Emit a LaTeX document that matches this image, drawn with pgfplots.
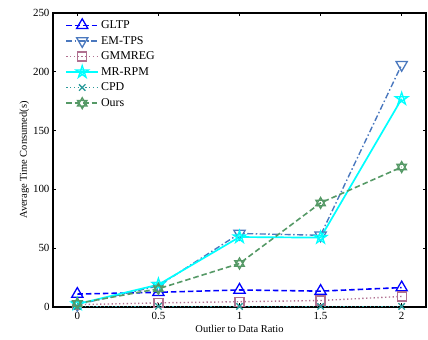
\documentclass[border=0pt]{standalone}
\usepackage{pgfplots}
\pgfplotsset{compat=1.18}
\usepackage{fontspec}
\setmainfont{Liberation Serif}
\definecolor{cGLTP}{rgb}{0,0,1}
\definecolor{cEM}{HTML}{4A78BE}
\definecolor{cGMM}{HTML}{B07090}
\definecolor{cMR}{HTML}{00FFFF}
\definecolor{cCPD}{HTML}{2A9A9A}
\definecolor{cOurs}{HTML}{559966}
\pgfdeclareplotmark{pentagram}{%
  \pgfpathmoveto{\pgfqpointpolar{90}{\pgfplotmarksize}}%
  \pgfpathlineto{\pgfqpointpolar{234}{\pgfplotmarksize}}%
  \pgfpathlineto{\pgfqpointpolar{18}{\pgfplotmarksize}}%
  \pgfpathlineto{\pgfqpointpolar{162}{\pgfplotmarksize}}%
  \pgfpathlineto{\pgfqpointpolar{306}{\pgfplotmarksize}}%
  \pgfpathclose\pgfusepathqstroke}
\pgfdeclareplotmark{hexagram}{%
  \pgfpathmoveto{\pgfqpointpolar{90}{\pgfplotmarksize}}%
  \pgfpathlineto{\pgfqpointpolar{210}{\pgfplotmarksize}}%
  \pgfpathlineto{\pgfqpointpolar{330}{\pgfplotmarksize}}%
  \pgfpathclose
  \pgfpathmoveto{\pgfqpointpolar{270}{\pgfplotmarksize}}%
  \pgfpathlineto{\pgfqpointpolar{30}{\pgfplotmarksize}}%
  \pgfpathlineto{\pgfqpointpolar{150}{\pgfplotmarksize}}%
  \pgfpathclose\pgfusepathqstroke}
\begin{document}
\begin{tikzpicture}
\begin{axis}[
  scale only axis, width=373bp, height=294bp,
  xmin=-0.15, xmax=2.15, ymin=0, ymax=250,
  xtick={0,0.5,1,1.5,2}, xticklabels={0,0.5,1,1.5,2},
  ytick={0,50,100,150,200,250},
  tick align=inside, tick pos=both, major tick length=3.5bp,
  axis line style={line width=1.1pt},
  every tick/.style={black, line width=0.7pt},
  tick label style={font=\fontsize{11}{13}\selectfont},
  label style={font=\fontsize{10.5}{12}\selectfont},
  /pgf/number format/assume math mode=true,
  xlabel={Outlier to Data Ratio},
  ylabel={Average Time Consumed(s)},
  xticklabel style={yshift=-1.5bp},
  xlabel style={yshift=1bp},
  ylabel style={yshift=-3bp},
  clip=false,
  legend style={at={(rel axis cs:0.03,0.985)}, anchor=north west, draw=none, fill=none,
    font=\fontsize{12}{13}\selectfont, row sep=2.2bp, inner sep=1bp},
  legend cell align=left,
  legend image code/.code={%
    \draw[mark repeat=2,mark phase=2] plot coordinates {(0bp,0bp) (16bp,0bp) (32bp,0bp)};},
]
\addplot[color=cGLTP, dash pattern=on 5.5bp off 3bp, line width=1.6pt, mark=triangle, mark size=6.5bp, mark options={solid, line width=1.3pt}]
 coordinates {(0,11) (0.5,12.5) (1,14.5) (1.5,13.5) (2,16.5)};
\addlegendentry{GLTP}
\addplot[color=cEM, dash pattern=on 6bp off 2.5bp on 1.5bp off 2.5bp, line width=1.4pt, mark=triangle, mark size=6.5bp, mark options={solid, rotate=180, line width=1.3pt}]
 coordinates {(0,2) (0.5,18) (1,62.5) (1.5,61) (2,206)};
\addlegendentry{EM-TPS}
\addplot[color=cGMM, dash pattern=on 1.3bp off 2.5bp, line width=1.4pt, mark=square, mark size=4.5bp, mark options={solid, line width=1.3pt}]
 coordinates {(0,2) (0.5,3.5) (1,4.5) (1.5,5.5) (2,9)};
\addlegendentry{GMMREG}
\addplot[color=cMR, solid, line width=1.7pt, mark=pentagram, mark size=6.5bp, mark options={solid, line width=1.3pt}]
 coordinates {(0,2.5) (0.5,19) (1,59.5) (1.5,59) (2,177)};
\addlegendentry{MR-RPM}
\addplot[color=cCPD, dash pattern=on 1.3bp off 2.5bp, line width=1.4pt, mark=x, mark size=4.5bp, mark options={solid, line width=1.3pt}]
 coordinates {(0,0.5) (0.5,0.5) (1,0.5) (1.5,0.5) (2,0.5)};
\addlegendentry{CPD}
\addplot[color=cOurs, dash pattern=on 5.5bp off 3bp, line width=1.6pt, mark=hexagram, mark size=5.5bp, mark options={solid, line width=1.3pt}]
 coordinates {(0,3) (0.5,15.5) (1,37) (1.5,88.5) (2,119)};
\addlegendentry{Ours}
\path (rel axis cs:0,0) ++(-53bp,-33bp) (rel axis cs:1,1) ++(2bp,13bp);
\end{axis}
\end{tikzpicture}
\end{document}
